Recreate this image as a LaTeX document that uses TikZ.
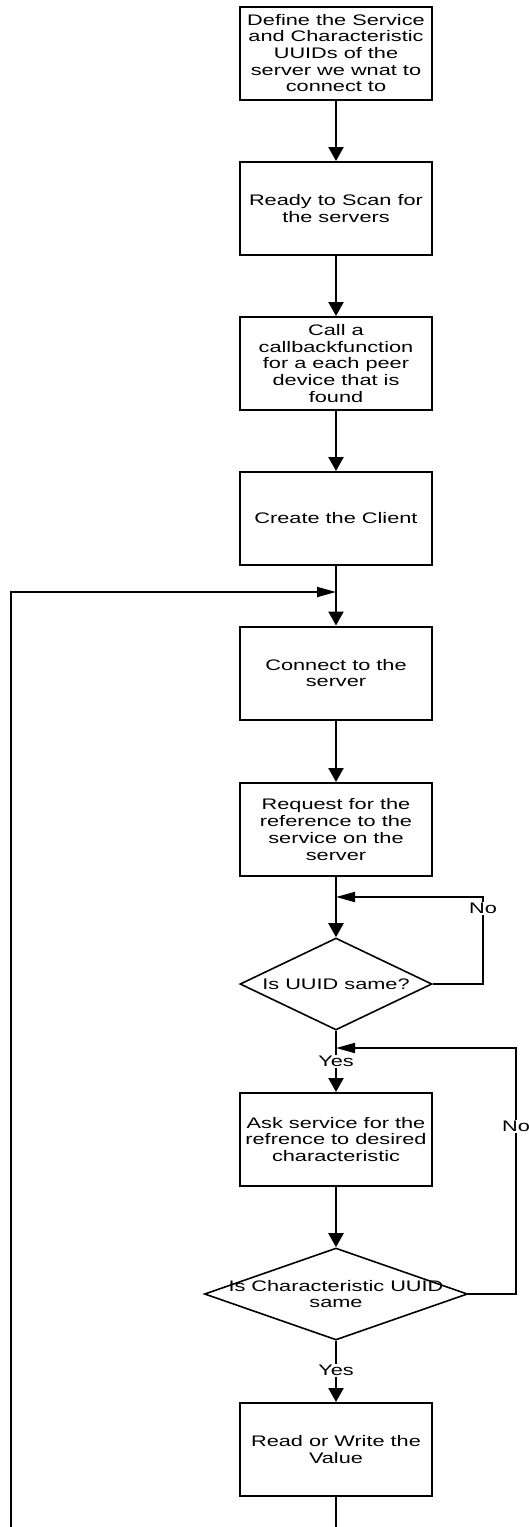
\documentclass[tikz,border=0pt]{standalone}
\usepackage{fontspec}
\setmainfont{Liberation Sans}[FakeStretch=1.42]
\usetikzlibrary{shapes.geometric,arrows.meta}

\begin{document}
\begin{tikzpicture}[x=1pt,y=1pt,
  txt/.style={font=\fontsize{15.3}{16.7}\selectfont},
  stepbox/.style={txt, draw, line width=2pt, minimum width=192pt, minimum height=93pt,
    inner sep=0pt, align=center},
  decision/.style={draw, diamond, line width=1.6pt, minimum width=#1, minimum height=92pt,
    inner sep=0pt},
  conn/.style={line width=2.3pt, -{Triangle[width=15pt,length=14pt]}},
  plainconn/.style={line width=2.3pt},
  backconn/.style={line width=1.9pt, -{Triangle[width=10pt,length=19pt]}},
  tag/.style={txt, fill=white, inner sep=1pt}
]
\useasboundingbox (0,0) rectangle (528,-1527);
\clip (0,0) rectangle (528,-1527);

% process boxes
\node[stepbox] (b1) at (336,-53)    {Define the Service\\and Characteristic\\UUIDs of the\\server we wnat to\\connect to};
\node[stepbox] (b2) at (336,-208.5) {Ready to Scan for\\the servers};
\node[stepbox] (b3) at (336,-363.5) {Call a\\callbackfunction\\for a each peer\\device that is\\found};
\node[stepbox] (b4) at (336,-518.5) {Create the Client};
\node[stepbox] (b5) at (336,-673)   {Connect to the\\server};
\node[stepbox] (b6) at (336,-829.5) {Request for the\\reference to the\\service on the\\server};
\node[stepbox] (b7) at (336,-1139.5) {Ask service for the\\refrence to desired\\characteristic};
\node[stepbox] (b8) at (336,-1449.5) {Read or Write the\\Value};

% decisions
\node[decision=192pt] (d1) at (336,-984)
  [label={[txt]center:Is UUID same?}] {};
\node[decision=263pt] (d2) at (336,-1294)
  [label={[txt, align=center]center:Is Characteristic UUID\\same}] {};

% junction points where loops rejoin the main flow
\coordinate (j1) at (336,-592);
\coordinate (j2) at (336,-897);
\coordinate (j3) at (336,-1048);
\coordinate (r1) at (483,-984);
\coordinate (r2) at (516,-1294);
\coordinate (loopbase) at (11,-1560);

% main flow
\draw[conn] (b1) -- (b2);
\draw[conn] (b2) -- (b3);
\draw[conn] (b3) -- (b4);
\draw[plainconn] (b4.south) -- (j1);
\draw[conn] (j1) -- (b5);
\draw[conn] (b5) -- (b6);
\draw[plainconn] (b6.south) -- (j2);
\draw[conn] (j2) -- (d1);
\draw[conn] (d1.south) -- node[tag, pos=0.5] {Yes} (b7);
\draw[conn] (b7) -- (d2);
\draw[conn] (d2.south) -- node[tag, pos=0.48] {Yes} (b8);

% loops back
\draw[backconn] (d1.east) -- (r1) -- node[tag, pos=0.87] {No} (r1 |- j2) -- (j2);
\draw[backconn] (d2.east) -- (r2) -- node[tag, pos=0.68] {No} (r2 |- j3) -- (j3);
\draw[backconn] (b8.south) |- (loopbase) |- (j1);
\end{tikzpicture}
\end{document}
